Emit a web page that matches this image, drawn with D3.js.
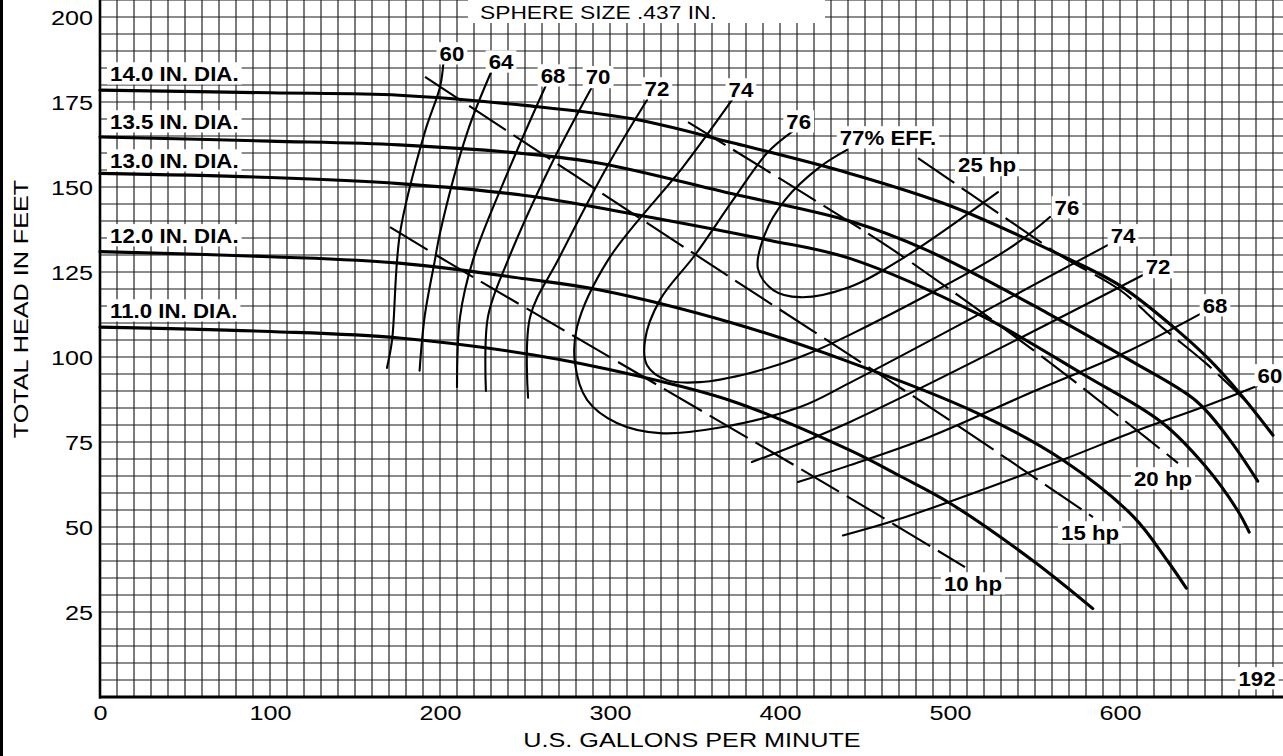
<!DOCTYPE html>
<html><head><meta charset="utf-8">
<script src="https://cdn.jsdelivr.net/npm/d3@7"></script>
<style>
html,body{margin:0;padding:0;background:#fff;}
svg{display:block;}
text{font-family:"Liberation Sans",Arial,Helvetica,sans-serif;fill:#000;}
</style></head><body>
<svg id="chart" width="1283" height="756"></svg>
<script>
// ---------- DATA (U.S. GPM, feet of head) ----------
const gpmTicks  = [0,100,200,300,400,500,600];
const headTicks = [25,50,75,100,125,150,175,200];

// impeller head-capacity curves
const dia14_0 = [[0,178.5],[100,177.7],[176,177],[250,174],[314,170],[372,163],[441,154],[500,144.5],[567,129.5],[600,121],[631,109],[653,99],[671,89],[690,77]];
const dia13_5 = [[0,164.7],[100,163.5],[176,162.4],[250,159.8],[294,157],[372,148],[441,140],[486,131.5],[557,113],[606,99],[645,87],[664,76],[681,63.5]];
const dia13_0 = [[0,154],[100,152.8],[176,151],[250,147.5],[314,142],[392,134.5],[441,129],[519,112],[578,95],[625,80.6],[650,68],[669,55],[676,48.5]];
const dia12_0 = [[0,131],[100,129.5],[176,127.6],[250,123],[294,119.7],[372,110],[441,98.5],[516,83.5],[567,69.5],[608,53],[628,40],[639,32]];
const dia11_0 = [[0,108.8],[100,107.5],[176,105.6],[255,100.6],[314,94.7],[372,87],[441,72.6],[470.6,65],[500,57],[549,40],[584,26]];

// iso-efficiency curves
const eff60L = [[168.8,96.8],[171.8,105],[176.5,136.5],[191,166],[200,179.4],[202,186.5]];
const eff64L = [[188,96],[191,112],[197,128.5],[200,136.5],[216,166],[230.6,184.4]];
const eff68L = [[210,91.2],[211.8,111.8],[219.4,128.5],[241.2,155.9],[262.4,180]];
const eff70L = [[227,90],[228.2,111.8],[240,128.5],[264.7,155.9],[289.4,179.4]];
const eff72L = [[251.8,88],[253,111.8],[269.4,128.5],[298.2,155.9],[321.8,175.6]];
const eff74  = [[371.8,175.6],[343,155.9],[298.8,128.5],[280.6,108.8],[279.4,98.2],[286.5,87.4],[304,80.6],[329.4,77.6],[363,79.1],[411.8,85.3],[441,92.4],[593,133]];
const eff76  = [[407,166.2],[392.4,160],[372.4,146.2],[350,130],[329.4,116.8],[320.6,105],[321.8,97.6],[333.5,93.2],[353,92.6],[382.4,95.3],[411.8,100],[441,106.5],[533.5,131.5],[558.8,141.2]];
const eff77  = [[439.4,160.9],[423.5,155.9],[403,146.2],[391,136],[387,126],[396,119.7],[411.8,117.6],[441,120.6],[472.4,129.1],[528.2,148.5]];
const eff72R = [[383.5,69.1],[441.2,80.9],[614.7,124.4]];
const eff68R = [[410.6,63.2],[441.2,68.2],[488,76.5],[547,89.4],[606,102],[647,112.6]];
const eff60R = [[437,47.5],[470.6,52.4],[565.9,69.7],[605.9,77.6],[648.8,85.3],[680.6,91.5]];

// brake horsepower lines
const hp10 = [[170.6,138.2],[204.7,127.9],[441.2,58.5],[508.8,38.2]];
const hp15 = [[191.2,182.4],[348.8,130.6],[438.2,101.5],[495.3,82.9],[584.1,52.9]];
const hp20 = [[345.9,169.1],[432.4,142.4],[466.5,131.5],[548.8,102.1],[605.9,80],[634.1,68.8]];
const hp25 = [[481.2,158.5],[537,139.4],[566.5,129.4],[600,119.7],[624.7,108.8],[651.8,97.6],[677.6,85.3]];

// texts
const diaNames  = ["14.0 IN. DIA.","13.5 IN. DIA.","13.0 IN. DIA.","12.0 IN. DIA.","11.0 IN. DIA."];
const effNames  = ["60","64","68","70","72","74","76","77% EFF.","76","74","72","68","60"];
const hpNames   = ["25 hp","20 hp","15 hp","10 hp"];
const titleTop  = "SPHERE SIZE .437 IN.";
const titleX    = "U.S. GALLONS PER MINUTE";
const titleY    = "TOTAL HEAD IN FEET";
const figNumber = "192";

// ---------- LAYOUT ----------
const W = 1283, Hh = 756;
const svg = d3.select('#chart');
const x = d3.scaleLinear().domain([0,700]).range([100,1290]);
const y = d3.scaleLinear().domain([0,205]).range([697,0]);

// label anchors (data units)
const diaLabelAt = [[5.9,183.5],[5.9,169.4],[5.9,157.9],[5.9,135.9],[5.9,113.8]];
const effLabelAt = [[207,189.4],[235.9,187],[266.5,182.9],[293,182.4],[327.6,179.1],[377,178.8],[411,169.4],[463.5,164.7],[568.8,144.1],[601.8,135.9],[622.4,126.5],[655.9,115.3],[688.2,94.7]];
const hpLabelAt  = [[521.8,156.5],[625.3,64.4],[582.4,48.5],[513.5,33.5]];
const figAt      = [680.6,5.6];

svg.append('rect').attr('width',W).attr('height',Hh).attr('fill','#fff');

// grid
const grid = svg.append('g').attr('stroke','#1a1a1a').attr('stroke-width',1.15);
grid.selectAll('line.v').data(d3.range(10,700,10)).join('line')
  .attr('x1',d=>x(d)).attr('x2',d=>x(d)).attr('y1',0).attr('y2',y(0));
grid.selectAll('line.h').data(d3.range(5,206,5)).join('line')
  .attr('x1',x(0)).attr('x2',W).attr('y1',d=>y(d)).attr('y2',d=>y(d));

// left border
svg.append('rect').attr('x',0).attr('y',0).attr('width',3).attr('height',Hh).attr('fill','#000');

// axes
const REG = 1.2;
const gy = svg.append('g').attr('transform',`translate(${x(0)},0)`)
  .call(d3.axisLeft(y).tickValues(headTicks).tickSize(0).tickFormat(d3.format('d')));
gy.select('.domain').remove();
gy.selectAll('text').attr('x',-7/REG).attr('dy','0.36em')
  .attr('font-size',21).attr('font-family','"Liberation Sans",Arial,sans-serif')
  .attr('transform',`scale(${REG},1)`);
const gx = svg.append('g').attr('transform',`translate(0,${y(0)})`)
  .call(d3.axisBottom(x).tickValues(gpmTicks).tickSize(0).tickFormat(d3.format('d')));
gx.select('.domain').remove();
gx.selectAll('text').attr('y',23).attr('dy',null)
  .attr('font-size',21).attr('font-family','"Liberation Sans",Arial,sans-serif')
  .attr('transform',`scale(${REG},1)`);

svg.append('line').attr('x1',x(0)).attr('x2',x(0)).attr('y1',0).attr('y2',y(0)+1.5)
  .attr('stroke','#000').attr('stroke-width',2.6);
svg.append('line').attr('x1',x(0)-1).attr('x2',W).attr('y1',y(0)).attr('y2',y(0))
  .attr('stroke','#000').attr('stroke-width',3);

// axis titles
svg.append('text').attr('transform',`translate(692,747) scale(${REG},1)`)
  .attr('text-anchor','middle').attr('font-size',21).text(titleX);
svg.append('text').attr('transform',`translate(28,309) rotate(-90) scale(${REG},1)`)
  .attr('text-anchor','middle').attr('font-size',21).text(titleY);

// curves
const line = d3.line().x(d=>x(d[0])).y(d=>y(d[1])).curve(d3.curveCatmullRom.alpha(0.5));
const curves = svg.append('g').attr('fill','none').attr('stroke','#000').attr('stroke-linecap','round');
curves.selectAll('path.eff').data([eff60L,eff64L,eff68L,eff70L,eff72L,eff74,eff76,eff77,eff72R,eff68R,eff60R]).join('path')
  .attr('d',line).attr('stroke-width',2.1);
curves.selectAll('path.hp').data([hp10,hp15,hp20,hp25]).join('path')
  .attr('d',line).attr('stroke-width',2.1).attr('stroke-dasharray','44,9').attr('stroke-linecap','butt');
curves.selectAll('path.dia').data([dia14_0,dia13_5,dia13_0,dia12_0,dia11_0]).join('path')
  .attr('d',line).attr('stroke-width',3.1);

// top note with white box
svg.append('rect').attr('x',468).attr('y',0).attr('width',357).attr('height',23).attr('fill','#fff');
svg.append('text').attr('transform','translate(480,18.5) scale(1.2,1)')
  .attr('font-size',19).text(titleTop);

// boxed bold labels
const BOLD = 1.06;
const labels = svg.append('g');
function boxLabel(txt, q, h, anchor){
  const g = labels.append('g').attr('transform',`translate(${x(q)},${y(h)})`);
  const t = g.append('text').attr('text-anchor',anchor).attr('dy','0.36em')
    .attr('font-size',21).attr('font-weight','bold')
    .attr('transform',`scale(${BOLD},1)`).text(txt);
  const bb = t.node().getBBox();
  g.insert('rect','text').attr('x',bb.x*BOLD-3).attr('y',bb.y+1)
    .attr('width',bb.width*BOLD+6).attr('height',bb.height-2).attr('fill','#fff');
}
diaNames.forEach((s,i)=>boxLabel(s,diaLabelAt[i][0],diaLabelAt[i][1],'start'));
effNames.forEach((s,i)=>boxLabel(s,effLabelAt[i][0],effLabelAt[i][1],'middle'));
hpNames.forEach((s,i)=>boxLabel(s,hpLabelAt[i][0],hpLabelAt[i][1],'middle'));
boxLabel(figNumber, figAt[0], figAt[1], 'middle');
</script>
</body></html>
